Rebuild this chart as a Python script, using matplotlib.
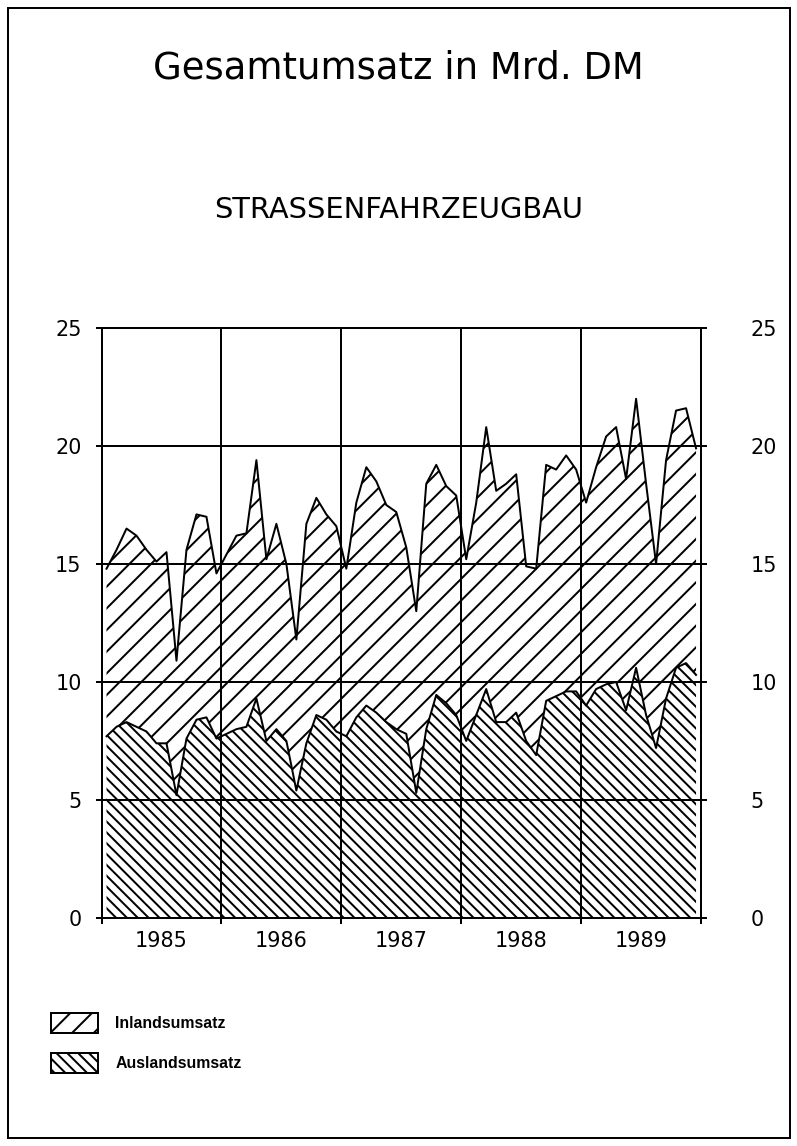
import matplotlib.pyplot as plt
import numpy as np
from matplotlib.patches import Patch, Rectangle

# --- Data (Mrd. DM, monatlich 1985-1989) ---
jahre = ["1985", "1986", "1987", "1988", "1989"]

# Gesamtumsatz (obere Linie)
gesamt = [14.8, 15.6, 16.5, 16.2, 15.6, 15.1, 15.5, 10.9, 15.6, 17.1, 17.0, 14.6,
          15.4, 16.2, 16.3, 19.4, 15.2, 16.7, 15.0, 11.8, 16.7, 17.8, 17.1, 16.6,
          14.8, 17.6, 19.1, 18.5, 17.5, 17.2, 15.7, 13.0, 18.4, 19.2, 18.3, 17.9,
          15.2, 17.6, 20.8, 18.1, 18.4, 18.8, 14.9, 14.8, 19.2, 19.0, 19.6, 19.0,
          17.6, 19.1, 20.4, 20.8, 18.6, 22.0, 18.4, 15.0, 19.4, 21.5, 21.6, 19.9]

# Auslandsumsatz (untere Linie)
ausland = [7.7, 8.1, 8.3, 8.1, 7.9, 7.4, 7.4, 5.2, 7.6, 8.4, 8.5, 7.6,
           7.8, 8.0, 8.1, 9.3, 7.5, 8.0, 7.5, 5.4, 7.4, 8.6, 8.4, 7.9,
           7.7, 8.5, 9.0, 8.7, 8.3, 8.0, 7.8, 5.3, 8.0, 9.45, 9.1, 8.6,
           7.5, 8.6, 9.7, 8.3, 8.3, 8.7, 7.5, 6.9, 9.2, 9.4, 9.6, 9.6,
           9.0, 9.7, 9.9, 10.0, 8.8, 10.6, 8.6, 7.2, 9.3, 10.6, 10.8, 10.3]

y_ticks = [0, 5, 10, 15, 20, 25]

plt.rcParams['hatch.linewidth'] = 1.1
plt.rcParams['font.family'] = 'DejaVu Sans'

fig = plt.figure(figsize=(797 / 130, 1146 / 130), dpi=130)
ax = fig.add_axes([0.1274, 0.199, 0.7522, 0.5148])

x = np.arange(len(gesamt))
ax.fill_between(x, ausland, gesamt, facecolor='white', edgecolor='black',
                hatch='//', linewidth=0)
ax.fill_between(x, 0, ausland, facecolor='white', edgecolor='black',
                hatch='\\\\\\\\', linewidth=0)
ax.plot(x, gesamt, color='black', lw=1.1)
ax.plot(x, ausland, color='black', lw=1.1)

# axes / grid
ax.set_xlim(-0.5, len(gesamt) - 0.5)
ax.set_ylim(0, 25)
grenzen = np.arange(len(jahre) + 1) * 12 - 0.5
ax.set_xticks(grenzen)
ax.set_xticklabels([])
ax.set_xticks(np.arange(len(jahre)) * 12 + 5.5, minor=True)
ax.set_xticklabels(jahre, minor=True, fontsize=11.5)
ax.tick_params(axis='x', which='major', direction='out', length=3.5, width=1.1)
ax.tick_params(axis='x', which='minor', length=0, pad=7)

ax.set_yticks(y_ticks)
ax.tick_params(axis='y', direction='out', length=3.5, width=1.1,
               labelsize=11.5, pad=7.5)
ax.grid(True, color='black', lw=1.1)
ax.set_axisbelow(False)
for s in ax.spines.values():
    s.set_linewidth(1.1)

ax2 = ax.twinx()
ax2.set_ylim(0, 25)
ax2.set_yticks(y_ticks)
ax2.tick_params(axis='y', direction='out', length=3.5, width=1.1,
                labelsize=11.5, pad=24)
for s in ax2.spines.values():
    s.set_linewidth(1.1)

# titles
fig.text(0.5, 1 - 68 / 1146, "Gesamtumsatz in Mrd. DM", ha='center', va='center',
         fontsize=20.5)
fig.text(0.5, 1 - 210 / 1146, "STRASSENFAHRZEUGBAU", ha='center', va='center',
         fontsize=16)

# legend
handles = [Patch(facecolor='white', edgecolor='black', hatch='//', lw=1.1),
           Patch(facecolor='white', edgecolor='black', hatch='\\\\\\\\', lw=1.1)]
fig.legend(handles, ["Inlandsumsatz", "Auslandsumsatz"], loc='upper left',
           bbox_to_anchor=(50.7 / 797, 1 - 1012.7 / 1146), frameon=False,
           borderpad=0, borderaxespad=0, handlelength=3.0, handleheight=1.57,
           handletextpad=1.07, labelspacing=1.26,
           prop={'family': 'Liberation Sans', 'weight': 'bold', 'size': 8.8})

# outer frame
fig.add_artist(Rectangle((8 / 797, 8 / 1146), 782 / 797, 1130 / 1146,
                         transform=fig.transFigure, fill=False,
                         edgecolor='black', lw=1.1))

fig.savefig("out.png", dpi=130)
